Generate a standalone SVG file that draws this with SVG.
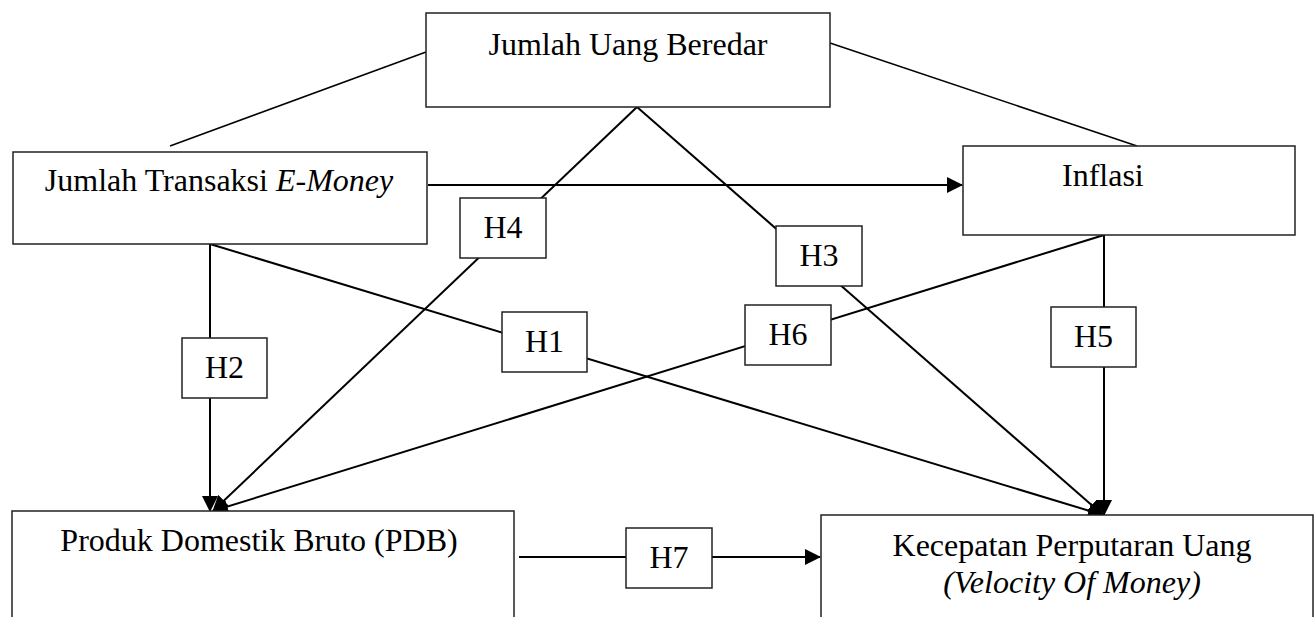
<svg xmlns="http://www.w3.org/2000/svg" width="1314" height="617" viewBox="0 0 1314 617">
<style>
.box{fill:#fff;stroke:#222;stroke-width:1.5}
.hb{fill:#fff;stroke:#222;stroke-width:1.5}
.t{font-family:"Liberation Serif","Times New Roman",serif;font-size:32px;fill:#000}
.i{font-style:italic}
.c{fill:none;stroke:#000;stroke-width:2}
.thin{fill:none;stroke:#000;stroke-width:1.5}
</style>
<defs>
<marker id="ah" markerUnits="userSpaceOnUse" markerWidth="16" markerHeight="16" refX="15" refY="8" orient="auto">
<path d="M0,0 L16,8 L0,16 Z" fill="#000"/>
</marker>
</defs>
<g id="connectors">
<line class="thin" x1="426" y1="52" x2="170" y2="146"/>
<line class="thin" x1="830" y1="43" x2="1137" y2="146"/>
<line class="c" x1="428" y1="185" x2="962" y2="185" marker-end="url(#ah)"/>
<line class="c" x1="637" y1="107" x2="213" y2="511" marker-end="url(#ah)"/>
<line class="c" x1="637" y1="107" x2="1103" y2="515" marker-end="url(#ah)"/>
<line class="c" x1="210" y1="244" x2="210" y2="511" marker-end="url(#ah)"/>
<line class="c" x1="210" y1="244" x2="1103" y2="515" marker-end="url(#ah)"/>
<line class="c" x1="1104" y1="235" x2="1104" y2="515" marker-end="url(#ah)"/>
<line class="c" x1="1104" y1="235" x2="213" y2="511" marker-end="url(#ah)"/>
<line class="c" x1="519" y1="557" x2="820" y2="557" marker-end="url(#ah)"/>
</g>
<g id="node-jub">
<rect class="box" x="426" y="13" width="404" height="94"/>
<text class="t" x="628" y="55" text-anchor="middle">Jumlah Uang Beredar</text>
</g>
<g id="node-emoney">
<rect class="box" x="13" y="152" width="414" height="92"/>
<text class="t" x="219" y="191" text-anchor="middle">Jumlah Transaksi <tspan class="i">E-Money</tspan></text>
</g>
<g id="node-inflasi">
<rect class="box" x="963" y="146" width="332" height="89"/>
<text class="t" x="1062" y="186">Inflasi</text>
</g>
<g id="node-pdb">
<rect class="box" x="12" y="511" width="502" height="120"/>
<text class="t" x="259" y="551" text-anchor="middle">Produk Domestik Bruto (PDB)</text>
</g>
<g id="node-velocity">
<rect class="box" x="821" y="515" width="492" height="120"/>
<text class="t" x="1072" y="556" text-anchor="middle">Kecepatan Perputaran Uang</text>
<text class="t i" x="1072" y="593" text-anchor="middle">(Velocity Of Money)</text>
</g>
<g id="h1"><rect class="hb" x="502" y="312" width="85" height="60"/><text class="t" x="544.5" y="352" text-anchor="middle">H1</text></g>
<g id="h2"><rect class="hb" x="182" y="338" width="85" height="60"/><text class="t" x="224.5" y="378" text-anchor="middle">H2</text></g>
<g id="h3"><rect class="hb" x="776" y="226" width="86" height="60"/><text class="t" x="819" y="266" text-anchor="middle">H3</text></g>
<g id="h4"><rect class="hb" x="460" y="198" width="86" height="60"/><text class="t" x="503" y="238" text-anchor="middle">H4</text></g>
<g id="h5"><rect class="hb" x="1051" y="307" width="85" height="60"/><text class="t" x="1093.5" y="347" text-anchor="middle">H5</text></g>
<g id="h6"><rect class="hb" x="745" y="305" width="86" height="60"/><text class="t" x="788" y="345" text-anchor="middle">H6</text></g>
<g id="h7"><rect class="hb" x="626" y="528" width="86" height="60"/><text class="t" x="669" y="568" text-anchor="middle">H7</text></g>
</svg>
